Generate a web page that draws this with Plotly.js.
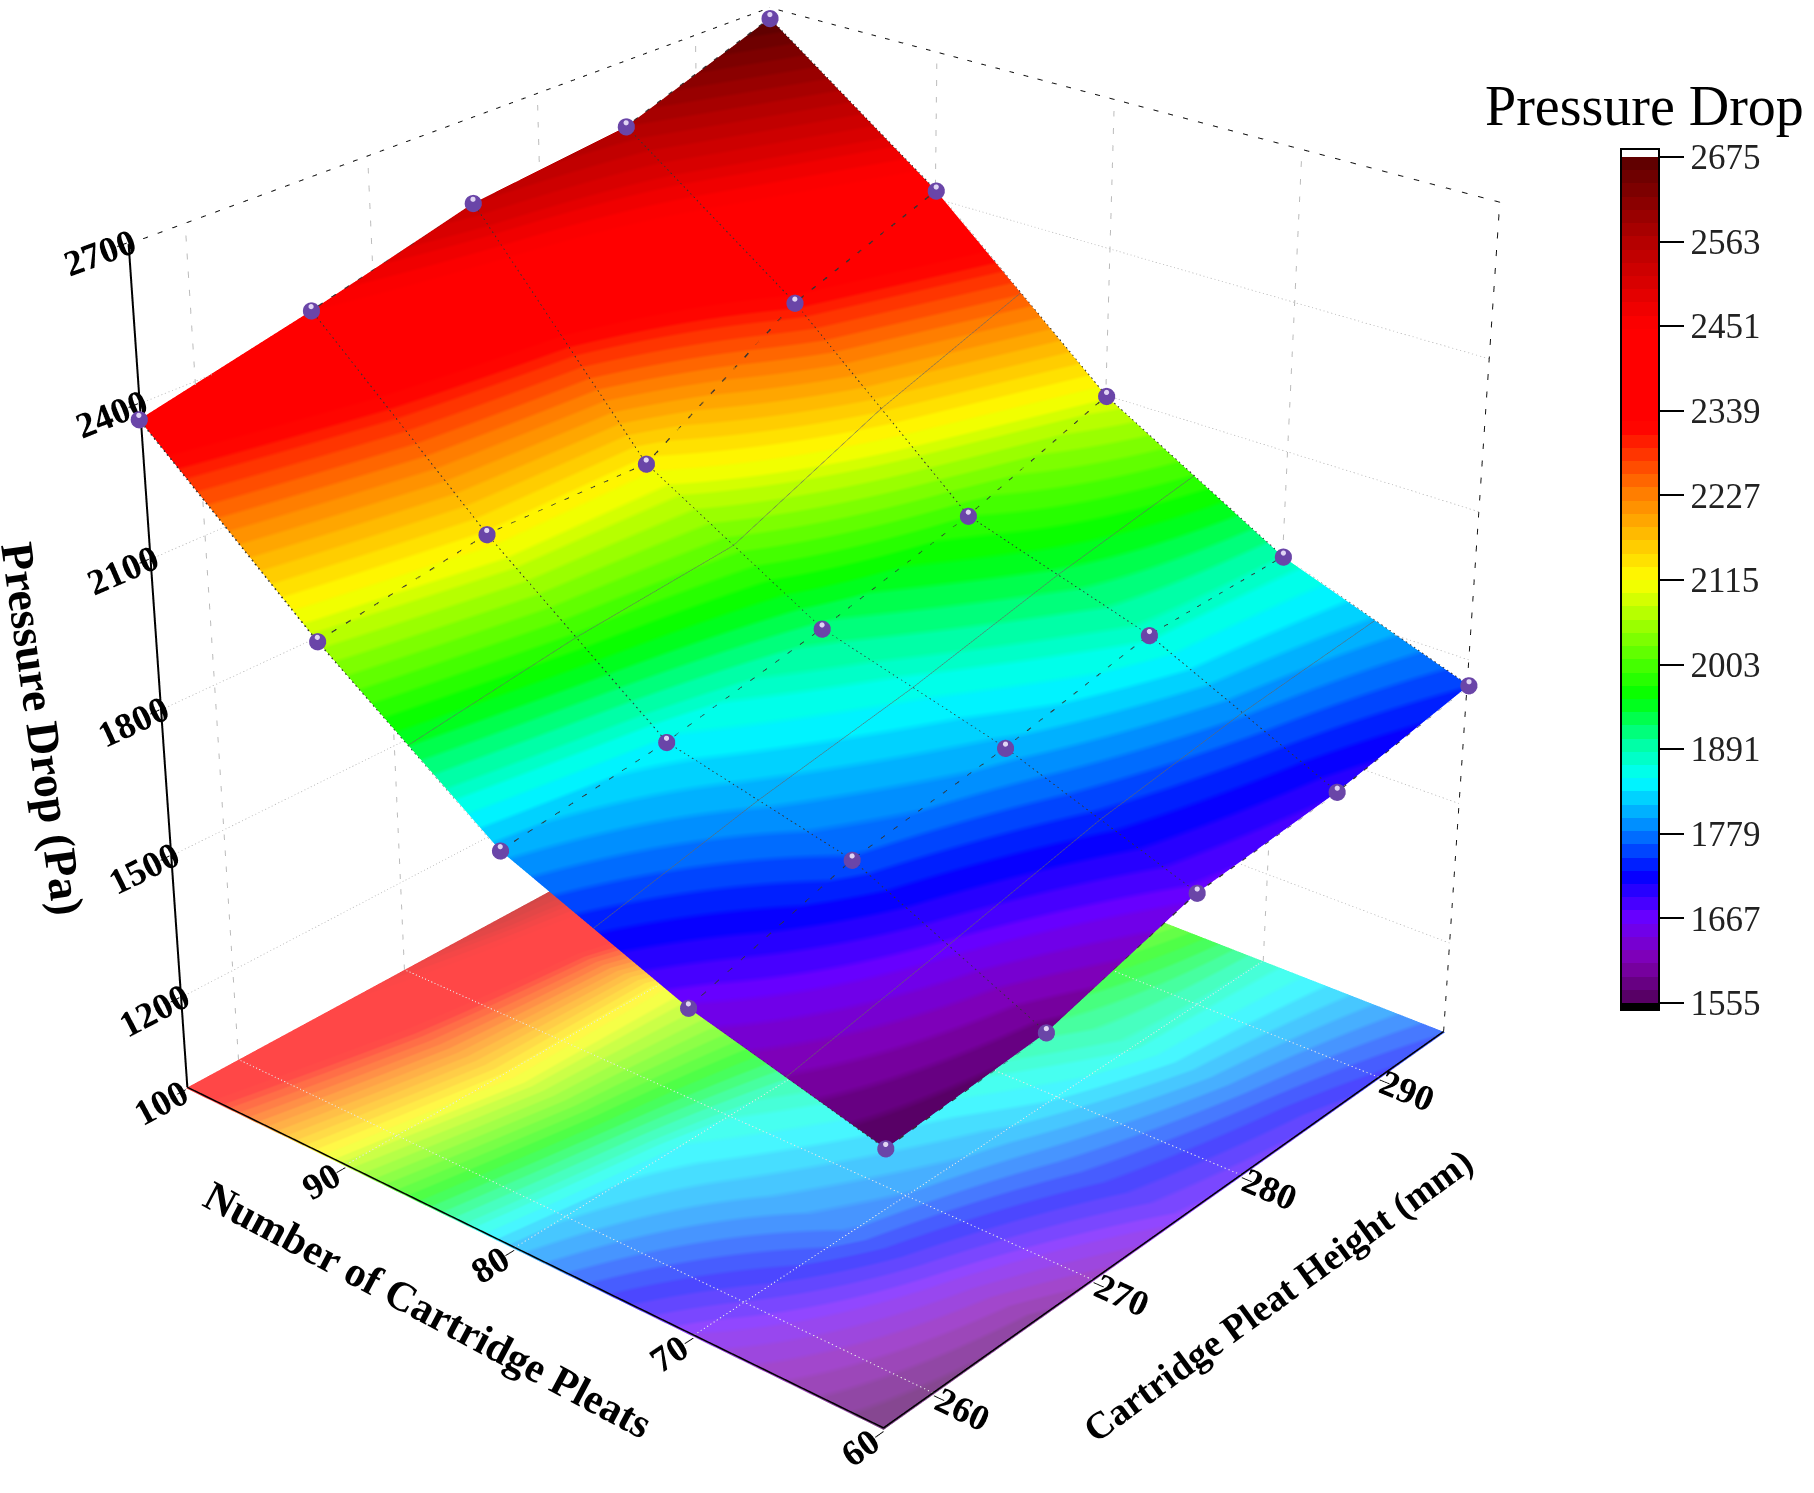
<!DOCTYPE html>
<html><head><meta charset="utf-8">
<script src="https://cdn.plot.ly/plotly-3.0.1.min.js"></script>
<style>html,body{margin:0;padding:0;background:#fff;overflow:hidden}#w{position:absolute;left:0;top:0;width:1814px;height:1493px;overflow:hidden}#c{position:absolute}</style></head>
<body><div id="w"><div id="c"></div></div>
<script>
const heights=[257,266.5,276,285.5,295];
const pleats=[60,70,80,90,100];
const pressure=[
 [1555,1580,1668,1695,1747],
 [1658,1761,1810,1875,1883],
 [1807,1848,1913,1991,2097],
 [2070,2125,2120,2310,2415],
 [2370,2445,2530,2565,2675]];
const heightTicks=[260,270,280,290];
const pleatTicks=[60,70,80,90,100];
const dropTicks=[1200,1500,1800,2100,2400,2700];
const barTicks=[1555,1667,1779,1891,2003,2115,2227,2339,2451,2563,2675];
const xRange=[257,295], yRange=[60,100], zRange=[1000,2700];
const floorZ=1003;
const anchors=[[1555,'#500058'],[1610,'#8000b0'],[1667,'#6a00ff'],[1725,'#0000ff'],[1779,'#0078ff'],[1850,'#00ffff'],[1900,'#00ffa0'],[1960,'#00ff00'],[2115,'#ffff00'],[2227,'#ff8000'],[2320,'#ff0000'],[2451,'#ff0000'],[2563,'#b40000'],[2675,'#5a0000']];
const barMin=1545.7, barMax=2685.6;

// The scene is larger than the page so a long lens fits the frame; the page shows a window on it.
const W=2100,H=3868,centerX=822,centerY=660;
const ox=W/2-centerX, oy=H/2-centerY;
const host=document.getElementById('c');
host.style.cssText='position:absolute;left:'+(-ox)+'px;top:'+(-oy)+'px;width:'+W+'px;height:'+H+'px';

function hex(c){return [1,3,5].map(i=>parseInt(c.substr(i,2),16));}
function colorAt(v,mix){
  for(let i=1;i<anchors.length;i++){ if(v<=anchors[i][0]){
    const t=(v-anchors[i-1][0])/(anchors[i][0]-anchors[i-1][0]);
    const a=hex(anchors[i-1][1]),b=hex(anchors[i][1]);
    return 'rgb('+a.map((x,k)=>Math.round((x+(b[k]-x)*t)*(1-mix)+255*mix)).join(',')+')';}}
  return anchors[anchors.length-1][1];
}
const norm=v=>(v-barMin)/(barMax-barMin);
const bands=64;
function makeScale(mix){
  const s=[[0,'#000000'],[norm(1555),'#000000']];
  for(let i=0;i<bands;i++){
    const a=1555+(2675-1555)*i/bands,b=1555+(2675-1555)*(i+1)/bands;
    const c=colorAt((a+b)/2,mix);
    s.push([norm(a),c],[norm(b),c]);
  }
  s.push([norm(2675),'#ffffff'],[1,'#ffffff']);
  return s;
}
const px=p=>(p+ox)/W, py=p=>1-(p+oy)/H;

const lighting={ambient:1,diffuse:0,specular:0,roughness:1,fresnel:0};
const traces=[];
traces.push({type:'surface',x:heights,y:pleats,z:pressure,colorscale:makeScale(0),cmin:barMin,cmax:barMax,lighting,hoverinfo:'skip',
  contours:{y:{show:true,start:65,end:95,size:10,color:'#666',width:1}},
  colorbar:{x:px(1621),xanchor:'left',y:py(579.5),yanchor:'middle',yref:'paper',len:861,lenmode:'pixels',thickness:38,thicknessmode:'pixels',xpad:0,ypad:0,
    outlinewidth:2,outlinecolor:'#000',tickmode:'array',tickvals:barTicks,ticktext:barTicks.map(String),ticks:'outside',ticklen:24,tickwidth:2,tickcolor:'#000',
    tickfont:{family:'Liberation Serif',size:35,color:'#222'}}});
traces.push({type:'surface',x:heights,y:pleats,z:pressure.map(r=>r.map(()=>floorZ)),surfacecolor:pressure,colorscale:makeScale(0.28),cmin:barMin,cmax:barMax,showscale:false,lighting,hoverinfo:'skip'});

function line(xs,ys,zs,color,dash,width){traces.push({type:'scatter3d',mode:'lines',x:xs,y:ys,z:zs,line:{color,dash,width},hoverinfo:'skip',showlegend:false});}
pressure.forEach((r,j)=>line(heights,heights.map(()=>pleats[j]),r,'#333','dash',3));
heights.forEach((h,i)=>line(pleats.map(()=>h),pleats,pressure.map(r=>r[i]),'#333','dot',3));
// small inset so the frame lines are not clipped at the scene bounds
const xLo=xRange[0]+0.05,xHi=xRange[1]-0.05,yLo=yRange[0]+0.05,yHi=yRange[1]-0.05,zLo=floorZ+2,zHi=zRange[1]-2;
dropTicks.slice(0,-1).forEach(z=>{
  line([xLo,xHi],[yHi,yHi],[z,z],'#bbb','dot',1.5);
  line([xHi,xHi],[yLo,yHi],[z,z],'#bbb','dot',1.5);
});
heightTicks.forEach(x=>{
  line([x,x],[yHi,yHi],[zLo,zHi],'#bbb','dash',2);
  line([x,x],[yLo,yHi],[zLo,zLo],'#e8e8e8','dot',2);
});
pleatTicks.slice(1,-1).forEach(y=>{
  line([xHi,xHi],[y,y],[zLo,zHi],'#bbb','dash',2);
  line([xLo,xHi],[y,y],[zLo,zLo],'#e8e8e8','dot',2);
});
line([xLo,xHi],[yHi,yHi],[zHi,zHi],'#111','dash',2);
line([xHi,xHi],[yLo,yHi],[zHi,zHi],'#111','dash',2);
line([xHi,xHi],[yLo,yLo],[zLo,zHi],'#111','dash',2);
line([xLo,xLo],[yHi,yHi],[zLo,zHi],'#000','solid',4);
line([xLo,xHi],[yLo,yLo],[zLo,zLo],'#000','solid',3);
line([xLo,xLo],[yLo,yHi],[zLo,zLo],'#000','solid',3);

const mx=pressure.flatMap(r=>heights), my=pressure.flatMap((r,j)=>r.map(()=>pleats[j])), mz=pressure.flat();
traces.push({type:'scatter3d',scene:'scene2',mode:'markers',x:mx,y:my,z:mz,marker:{size:10,color:'#6a45a8',line:{width:0}},hoverinfo:'skip',showlegend:false});
traces.push({type:'scatter3d',scene:'scene2',mode:'markers',x:mx,y:my,z:mz.map(v=>v+8),marker:{size:3,color:'#e0d4f4',line:{width:0}},hoverinfo:'skip',showlegend:false});

const axFont={family:'Liberation Serif',size:21,weight:'bold',color:'#000'};
const ax=(range,vals)=>({title:{text:''},range,autorange:false,tickmode:'array',tickvals:vals,ticktext:vals.map(String),
  tickfont:axFont,ticks:'outside',ticklen:10,tickwidth:2,tickcolor:'#000',showgrid:false,showline:false,zeroline:false,showbackground:false,showspikes:false});
const hid=(range)=>({visible:false,range,autorange:false,showgrid:false,showline:false,zeroline:false,showticklabels:false,showspikes:false,title:{text:''}});
const camera={eye:{x:-3.44,y:-2.895,z:2.2},center:{x:0,y:0,z:0},up:{x:0,y:0,z:1},projection:{type:'perspective'}};
const domain={x:[0,1],y:[0,1]};
const aspect={x:1,y:1,z:1};
const titleFont=s=>({family:'Liberation Serif',size:s,weight:'bold',color:'#000'});
const note=(text,x,y,angle,font)=>({text,xref:'paper',yref:'paper',x:px(x),y:py(y),xanchor:'center',yanchor:'middle',showarrow:false,textangle:angle,font});
const layout={width:W,height:H,margin:{l:0,r:0,t:0,b:0},paper_bgcolor:'#fff',showlegend:false,
  scene:{domain,aspectmode:'manual',aspectratio:aspect,camera,
    xaxis:ax(xRange,heightTicks),yaxis:ax(yRange,pleatTicks),zaxis:ax(zRange,dropTicks)},
  scene2:{domain,aspectmode:'manual',aspectratio:aspect,camera,xaxis:hid(xRange),yaxis:hid(yRange),zaxis:hid(zRange)},
  annotations:[
    note('Pressure Drop',1644,106,0,{family:'Liberation Serif',size:56,color:'#000'}),
    note('Pressure Drop (Pa)',43,729,82,titleFont(46)),
    note('Number of Cartridge Pleats',428,1310,28,titleFont(42)),
    note('Cartridge Pleat Height (mm)',1278,1295,-36,titleFont(38))]};
Plotly.newPlot('c',traces,layout,{displayModeBar:false});
</script></body></html>
